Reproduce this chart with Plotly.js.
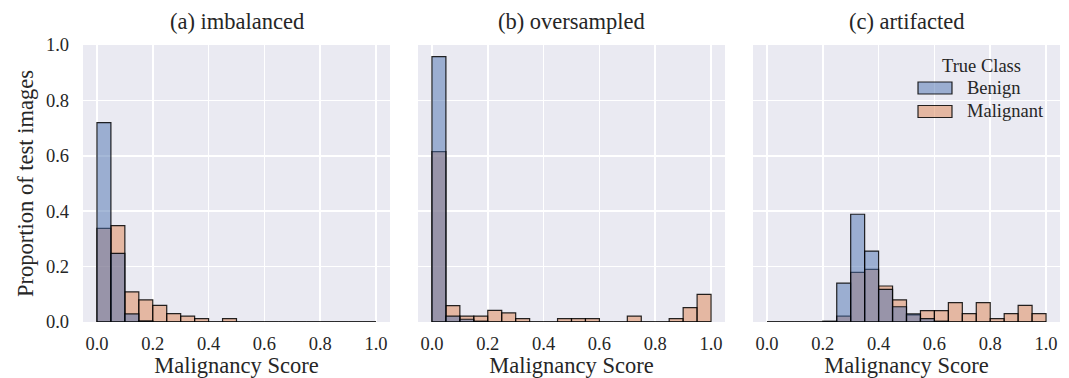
<!DOCTYPE html>
<html>
<head>
<meta charset="utf-8">
<script src="https://cdn.plot.ly/plotly-3.0.1.min.js"></script>
<style>html,body{margin:0;padding:0;background:#fff;}#chart{width:1069px;height:378px;}</style>
</head>
<body>
<div id="chart"></div>
<script>
// Histogram bins (Malignancy Score), width 0.05
var binCenters = [0.025,0.075,0.125,0.175,0.225,0.275,0.325,0.375,0.425,0.475,0.525,0.575,0.625,0.675,0.725,0.775,0.825,0.875,0.925,0.975];
var binWidth = 0.05;
var binRange = [0.0, 1.0];

var panelTitles = ["(a) imbalanced", "(b) oversampled", "(c) artifacted"];
var classNames = ["Benign", "Malignant"];
var tickVals = [0.0, 0.2, 0.4, 0.6, 0.8, 1.0];
var tickText = ["0.0", "0.2", "0.4", "0.6", "0.8", "1.0"];

// (a) imbalanced
var imbBenign    = [0.720,0.248,0.029,0.004,0,0,0,0,0,0,0,0,0,0,0,0,0,0,0,0];
var imbMalignant = [0.338,0.348,0.109,0.080,0.060,0.030,0.021,0.012,0,0.012,0,0,0,0,0,0,0,0,0,0];
// (b) oversampled
var ovsBenign    = [0.958,0.021,0.010,0.003,0,0,0,0,0,0,0,0,0,0,0,0,0,0,0,0];
var ovsMalignant = [0.615,0.059,0.021,0.021,0.042,0.033,0.012,0,0,0.012,0.012,0.012,0,0,0.021,0,0,0.012,0.052,0.100];
// (c) artifacted
var artBenign    = [0,0,0,0,0.003,0.140,0.389,0.256,0.118,0.055,0.029,0.012,0.003,0,0,0,0,0,0,0];
var artMalignant = [0,0,0,0,0,0.021,0.179,0.190,0.130,0.080,0.026,0.041,0.041,0.070,0.030,0.070,0.012,0.030,0.060,0.030];

var panels = [[imbBenign, imbMalignant],[ovsBenign, ovsMalignant],[artBenign, artMalignant]];

(function(){
var W = 1069, H = 378;
var FONT = "'Liberation Serif', serif";
var TXT = "#262626";
var benignFill = "rgba(76,114,176,0.5)";
var maligFill = "rgba(221,132,82,0.5)";
var edge = "rgba(0,0,0,0.85)";
var TITLE_SIZE = 22.5, TICK_SIZE = 18.5, LEG_SIZE = 18.5;

var px = [[83,390],[418,725],[753,1060]];
var plotTop = 45, plotBottom = 322;

var traces = [];
var layout = {
  width: W, height: H,
  margin: {l:0, r:0, t:plotTop, b:H-plotBottom, pad:0},
  paper_bgcolor: "#ffffff",
  plot_bgcolor: "#EAEAF2",
  barmode: "overlay",
  bargap: 0,
  showlegend: false,
  font: {family: FONT, color: TXT, size: TICK_SIZE},
  annotations: [],
  shapes: []
};

for (var p = 0; p < 3; p++) {
  var sfx = p === 0 ? "" : String(p+1);
  var xa = "x" + sfx, ya = "y" + sfx;
  traces.push({
    type: "bar", x: binCenters, y: panels[p][1], width: binWidth,
    xaxis: xa, yaxis: ya, name: classNames[1],
    marker: {color: maligFill, line: {color: edge, width: 1.2}}
  });
  traces.push({
    type: "bar", x: binCenters, y: panels[p][0], width: binWidth,
    xaxis: xa, yaxis: ya, name: classNames[0],
    marker: {color: benignFill, line: {color: edge, width: 1.2}}
  });
  layout["xaxis" + sfx] = {
    domain: [px[p][0]/W, px[p][1]/W],
    range: [-0.05, 1.05],
    anchor: ya,
    tickvals: tickVals, ticktext: tickText,
    showgrid: true, gridcolor: "#ffffff", gridwidth: 1.6,
    zeroline: false, showline: false, ticks: "",
    ticklabelstandoff: 8,
    tickfont: {family: FONT, size: TICK_SIZE, color: TXT},
    title: {text: "Malignancy Score", font: {family: FONT, size: TITLE_SIZE, color: TXT}, standoff: 3}
  };
  layout["yaxis" + sfx] = {
    domain: [0, 1],
    range: [0, 1.0],
    anchor: xa,
    tickvals: tickVals, ticktext: tickText,
    showticklabels: p === 0,
    showgrid: true, gridcolor: "#ffffff", gridwidth: 1.6,
    zeroline: false, showline: false, ticks: "",
    ticklabelstandoff: 13,
    tickfont: {family: FONT, size: TICK_SIZE, color: TXT}
  };
  if (p === 0) layout.yaxis.title = {text: "Proportion of test images", font: {family: FONT, size: TITLE_SIZE, color: TXT}, standoff: 6};
  layout.shapes.push({
    type: "line", xref: xa, yref: ya,
    x0: binRange[0], x1: binRange[1], y0: 0, y1: 0,
    line: {color: edge, width: 1.2}, layer: "above"
  });
  layout.annotations.push({
    text: panelTitles[p], xref: "paper", yref: "paper",
    x: (px[p][0] + px[p][1]) / 2 / W, y: (plotBottom - 22) / (plotBottom - plotTop),
    xanchor: "center", yanchor: "middle", showarrow: false,
    font: {family: FONT, size: TITLE_SIZE, color: TXT}
  });
}

function py(pix) { return (plotBottom - pix) / (plotBottom - plotTop); }
layout.annotations.push({
  text: "True Class", xref: "paper", yref: "paper",
  x: 981/W, y: py(66), xanchor: "center", yanchor: "middle", showarrow: false,
  font: {family: FONT, size: LEG_SIZE, color: TXT}
});
var legFills = [benignFill, maligFill];
var legY = [88, 111.5];
for (var i = 0; i < 2; i++) {
  layout.shapes.push({
    type: "rect", xref: "paper", yref: "paper",
    x0: 918/W, x1: 952/W, y0: py(legY[i] + 6), y1: py(legY[i] - 6),
    fillcolor: legFills[i], line: {color: edge, width: 1.2}
  });
  layout.annotations.push({
    text: classNames[i], xref: "paper", yref: "paper",
    x: 965/W, y: py(legY[i]), xanchor: "left", yanchor: "middle", showarrow: false,
    font: {family: FONT, size: LEG_SIZE, color: TXT}
  });
}

Plotly.newPlot("chart", traces, layout, {displayModeBar: false, staticPlot: true});
})();
</script>
</body>
</html>
